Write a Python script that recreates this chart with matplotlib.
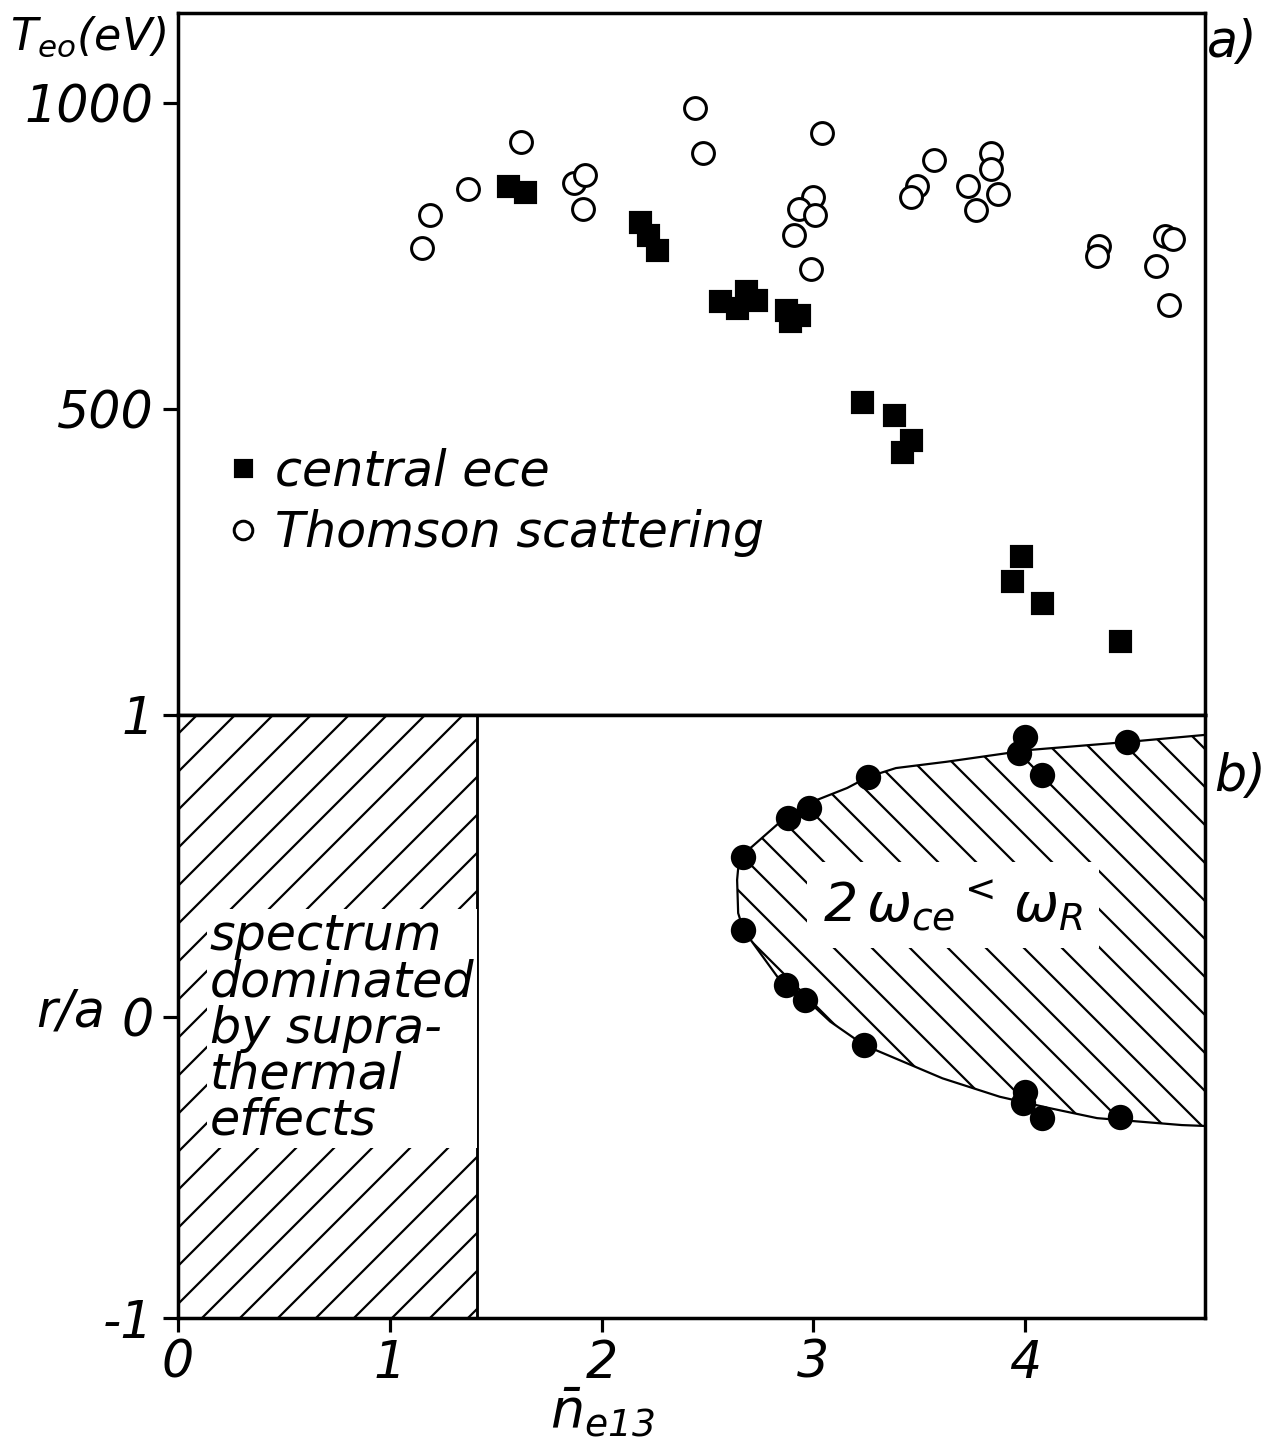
import matplotlib
matplotlib.use("Agg")
import matplotlib.pyplot as plt
from matplotlib.patches import Polygon, Rectangle

# ---- values ----
# a) central electron temperature vs. line averaged density
ece_ne = [1.56, 1.64, 2.18, 2.22, 2.26, 2.56, 2.64, 2.68, 2.73,
          2.87, 2.89, 2.93, 3.23, 3.38, 3.42, 3.46, 3.94, 3.98, 4.08, 4.45]
ece_te = [864, 855, 806, 784, 760, 677, 665, 693, 678,
          662, 643, 654, 511, 490, 429, 450, 219, 259, 183, 121]

thomson_ne = [1.15, 1.19, 1.37, 1.62, 1.87, 1.92, 1.91, 2.44, 2.48,
              3.04, 3.00, 2.93, 3.01, 2.91, 2.99, 3.57, 3.49, 3.46,
              3.84, 3.84, 3.73, 3.87, 3.77, 4.35, 4.34, 4.66, 4.70, 4.62, 4.68]
thomson_te = [763, 817, 859, 936, 870, 883, 827, 992, 919,
              951, 846, 827, 817, 784, 729, 907, 864, 846,
              918, 892, 864, 851, 825, 766, 750, 783, 778, 734, 670]

# b) radial position where 2 w_ce < w_R
reso_ne = [4.00, 3.97, 4.08, 4.48, 3.26, 2.98, 2.88, 2.67,
           2.67, 2.87, 2.96, 3.24, 4.00, 3.99, 4.08, 4.45]
reso_ra = [0.928, 0.873, 0.801, 0.911, 0.795, 0.691, 0.657, 0.530,
           0.287, 0.104, 0.055, -0.095, -0.249, -0.288, -0.338, -0.332]

# hand drawn boundary of the region
bound_ne = [4.85, 4.49, 4.02, 3.63, 3.39, 3.26, 3.16, 2.98, 2.88, 2.71, 2.65,
            2.64, 2.645, 2.67, 2.83, 2.97, 3.08, 3.24, 3.61, 3.88, 4.11, 4.34,
            4.74, 4.85]
bound_ra = [0.934, 0.911, 0.884, 0.845, 0.824, 0.795, 0.758, 0.708, 0.668,
            0.563, 0.530, 0.453, 0.343, 0.287, 0.132, 0.055, -0.017, -0.095,
            -0.205, -0.266, -0.303, -0.337, -0.360, -0.363]

supra_limit = 1.41  # density below which spectrum is suprathermal

# ---- style ----
DPI = 228
plt.rcParams["font.family"] = ["DejaVu Sans"]
plt.rcParams["font.style"] = "italic"
plt.rcParams["font.size"] = 16
plt.rcParams["mathtext.fontset"] = "custom"
plt.rcParams["mathtext.it"] = "DejaVu Sans:italic"
plt.rcParams["mathtext.rm"] = "DejaVu Sans:italic"
plt.rcParams["axes.unicode_minus"] = False
plt.rcParams["hatch.linewidth"] = 0.7
plt.rcParams["axes.linewidth"] = 1.1

fig = plt.figure(figsize=(1270 / DPI, 1450 / DPI), dpi=DPI)
ax1 = fig.add_axes([0.1402, 0.5069, 0.8087, 0.4841])
ax2 = fig.add_axes([0.1402, 0.0910, 0.8087, 0.4159], sharex=ax1)

# ---- panel a ----
ax1.plot(thomson_ne, thomson_te, "o", ms=6.9, mfc="white", mec="black",
         mew=0.95, ls="none", label="Thomson scattering", zorder=3)
ax1.plot(ece_ne, ece_te, "s", ms=6.3, color="black", ls="none",
         label="central ece", zorder=4)

ax1.set_xlim(0, 4.85)
ax1.set_ylim(0, 1147)
ax1.set_yticks([500, 1000])
ax1.tick_params(axis="x", which="both", bottom=False, labelbottom=False)

handles, labels = ax1.get_legend_handles_labels()
ax1.legend(handles[::-1], labels[::-1], loc="upper left",
           bbox_to_anchor=(0.044, 0.381), frameon=False, fontsize=15.5,
           handlelength=0.8, handletextpad=0.25, labelspacing=0.28,
           borderpad=0, borderaxespad=0, markerscale=0.85)

ax1.text(-0.088, 0.966, r"$T_{eo}$(eV)", transform=ax1.transAxes,
         ha="center", va="center", fontsize=14)
ax1.text(1.026, 0.958, "a)", transform=ax1.transAxes,
         ha="center", va="center", fontsize=16)

# ---- panel b ----
supra = Rectangle((0, -1), supra_limit, 2, facecolor="none",
                  edgecolor="black", lw=0.9, hatch="//", zorder=1)
ax2.add_patch(supra)

region = Polygon(list(zip(bound_ne, bound_ra)), closed=False,
                 facecolor="none", edgecolor="black", lw=0.7,
                 hatch="\\\\", zorder=1)
ax2.add_patch(region)

ax2.plot(reso_ne, reso_ra, "o", ms=7, color="black", ls="none", zorder=4)

ax2.text(0.15, -0.04, "spectrum\ndominated\nby supra-\nthermal\neffects",
         ha="left", va="center", fontsize=15.5, linespacing=0.95, zorder=3,
         bbox=dict(facecolor="white", edgecolor="none", pad=1))
ax2.text(3.66, 0.37, r"$2\,\omega_{ce}{}^{<}\,\omega_{R}$",
         ha="center", va="center", fontsize=17, zorder=3,
         bbox=dict(facecolor="white", edgecolor="none", pad=5))

ax2.set_ylim(-1, 1)
ax2.set_yticks([-1, 0, 1])
ax2.set_yticklabels(["-1", "0", "1"])
ax2.set_xticks([0, 1, 2, 3, 4])

ax2.set_ylabel("r/a", rotation=0, ha="center", va="center", fontsize=16)
ax2.yaxis.set_label_coords(-0.105, 0.507)
ax2.set_xlabel(r"$\bar{n}_{e13}$", fontsize=17, va="top")
ax2.xaxis.set_label_coords(0.413, -0.112)
ax2.text(1.034, 0.897, "b)", transform=ax2.transAxes,
         ha="center", va="center", fontsize=16)

for ax in (ax1, ax2):
    ax.tick_params(axis="y", direction="out", length=4.7, width=1.0, pad=3)
    ax.tick_params(axis="x", direction="out", length=4.5, width=1.0, pad=2)
    for spine in ax.spines.values():
        spine.set_color("black")

fig.savefig("out.png", dpi=DPI, facecolor="white")
